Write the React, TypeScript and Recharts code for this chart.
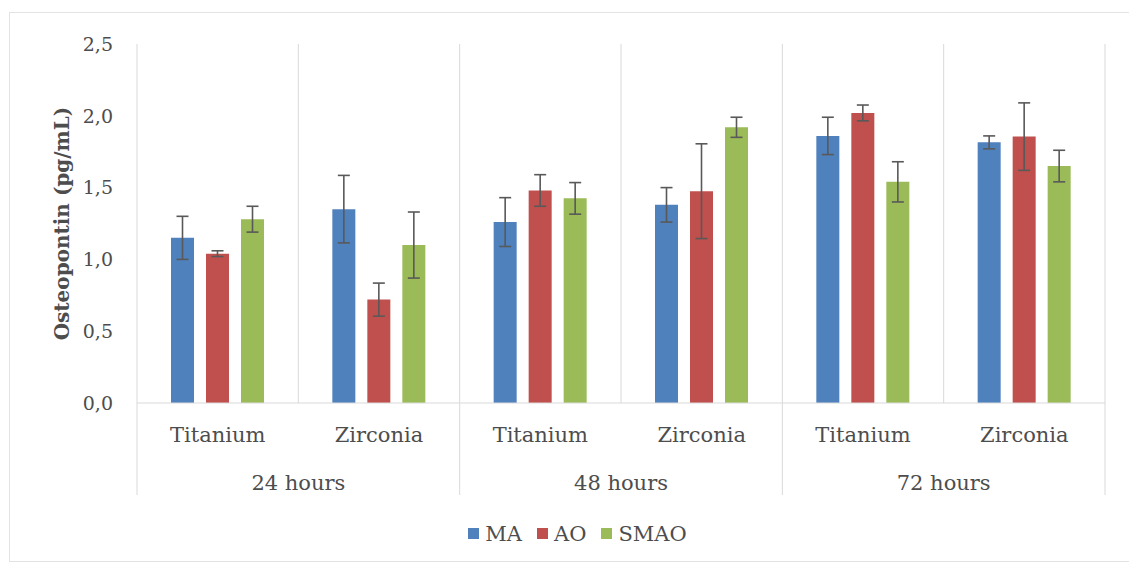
import React from "react";
import {
  Bar,
  BarChart,
  CartesianGrid,
  ErrorBar,
  Legend,
  XAxis,
  YAxis,
} from "recharts";

const materials = ["Titanium", "Zirconia", "Titanium", "Zirconia", "Titanium", "Zirconia"];
const periods = ["24 hours", "24 hours", "48 hours", "48 hours", "72 hours", "72 hours"];

const ma = [1.15, 1.35, 1.26, 1.38, 1.86, 1.815];
const ao = [1.04, 0.72, 1.48, 1.475, 2.02, 1.855];
const smao = [1.28, 1.1, 1.425, 1.92, 1.54, 1.65];

const maErr = [0.15, 0.235, 0.17, 0.12, 0.13, 0.045];
const aoErr = [0.02, 0.115, 0.11, 0.33, 0.055, 0.235];
const smaoErr = [0.09, 0.23, 0.11, 0.07, 0.14, 0.11];

const yTicks = [0, 0.5, 1, 1.5, 2, 2.5];

const series = [
  { key: "MA", err: "maErr", color: "#4F81BD" },
  { key: "AO", err: "aoErr", color: "#C0504D" },
  { key: "SMAO", err: "smaoErr", color: "#9BBB59" },
];

const data = materials.map((m, i) => ({
  id: `${periods[i]}-${m}`,
  material: m,
  period: periods[i],
  MA: ma[i],
  AO: ao[i],
  SMAO: smao[i],
  maErr: maErr[i],
  aoErr: aoErr[i],
  smaoErr: smaoErr[i],
}));

const FONT = "'DejaVu Serif', serif";
const TEXT = "#4d4d4d";
const LINE = "#d9d9d9";

function MaterialTick(props: any) {
  const { x, y, index } = props;
  return (
    <text x={x} y={y} dy={31} textAnchor="middle" fontFamily={FONT} fontSize={21} fill={TEXT}>
      {materials[index]}
    </text>
  );
}

function PeriodTick(props: any) {
  const { x, y, index, payload } = props;
  const half = payload?.offset ?? 80.7;
  const top = y - 58;
  const bottom = y + 34;
  if (index % 2 !== 0) {
    return index === materials.length - 1 ? (
      <line x1={x + half} x2={x + half} y1={top} y2={bottom} stroke={LINE} />
    ) : null;
  }
  return (
    <g>
      <line x1={x - half} x2={x - half} y1={top} y2={bottom} stroke={LINE} />
      <text x={x + half} y={y} dy={29} textAnchor="middle" fontFamily={FONT} fontSize={21} fill={TEXT}>
        {periods[index]}
      </text>
    </g>
  );
}

function LegendBox() {
  return (
    <div
      style={{
        height: 61,
        display: "flex",
        alignItems: "center",
        justifyContent: "center",
        gap: 15,
        paddingLeft: 50,
        fontFamily: FONT,
        fontSize: 21,
        color: TEXT,
      }}
    >
      {series.map((s) => (
        <span key={s.key} style={{ display: "flex", alignItems: "center", gap: 6 }}>
          <span style={{ width: 11, height: 11, background: s.color, display: "inline-block" }} />
          {s.key}
        </span>
      ))}
    </div>
  );
}

function YTitle(props: any) {
  const { viewBox } = props;
  const x = viewBox.x + 62;
  const y = viewBox.y + viewBox.height / 2;
  return (
    <text
      x={x}
      y={y}
      transform={`rotate(-90, ${x}, ${y})`}
      textAnchor="middle"
      dominantBaseline="central"
      fontFamily={FONT}
      fontWeight="bold"
      fontSize={20}
      fill={TEXT}
    >
      Osteopontin (pg/mL)
    </text>
  );
}

export default function App() {
  return (
    <div style={{ position: "absolute", left: 0, top: 0, width: 1129, height: 564, overflow: "hidden", background: "#fff" }}>
      <div
        style={{
          position: "absolute",
          left: 9,
          top: 12,
          width: 1140,
          height: 548,
          border: "1px solid #e3e3e3",
        }}
      />
      <BarChart
        width={1129}
        height={564}
        data={data}
        margin={{ top: 44, right: 24, bottom: 0, left: 0 }}
        barSize={23}
        barGap={12}
        style={{ position: "absolute", left: 0, top: 0 }}
      >
        <CartesianGrid
          horizontal={false}
          stroke={LINE}
          verticalCoordinatesGenerator={({ offset }: any) =>
            materials.concat("end").map((_, i) => offset.left + (i * offset.width) / materials.length)
          }
        />
        <XAxis
          dataKey="id"
          xAxisId={0}
          height={50}
          axisLine={{ stroke: LINE }}
          tickLine={false}
          interval={0}
          tick={<MaterialTick />}
        />
        <XAxis
          dataKey="id"
          xAxisId={1}
          height={50}
          axisLine={false}
          tickLine={false}
          interval={0}
          tick={<PeriodTick />}
        />
        <YAxis
          width={137}
          domain={[0, 2.5]}
          ticks={yTicks}
          axisLine={false}
          tickLine={false}
          tickMargin={18}
          tickFormatter={(v: number) => v.toFixed(1).replace(".", ",")}
          tick={{ fontFamily: FONT, fontSize: 19, fill: TEXT }}
          label={<YTitle />}
        />
        <Legend verticalAlign="bottom" content={<LegendBox />} />
        {series.map((s) => (
          <Bar key={s.key} dataKey={s.key} xAxisId={0} fill={s.color} isAnimationActive={false}>
            <ErrorBar
              dataKey={s.err}
              width={6}
              stroke="#595959"
              strokeWidth={1.6}
              direction="y"
              isAnimationActive={false}
            />
          </Bar>
        ))}
      </BarChart>
    </div>
  );
}
